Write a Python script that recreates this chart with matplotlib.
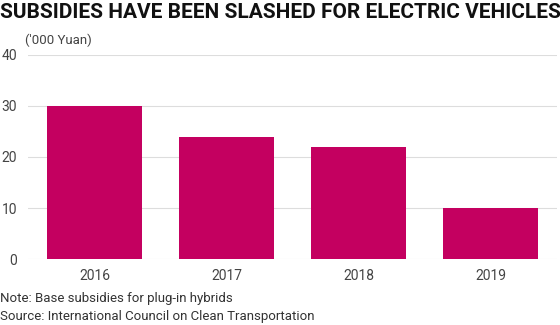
import matplotlib
matplotlib.use('Agg')
import matplotlib.pyplot as plt

# data
years = ['2016', '2017', '2018', '2019']
subsidies = [30, 24, 22, 10]
yticks = [0, 10, 20, 30, 40]

bar_color = '#C40060'
plt.rcParams['font.family'] = ['Roboto', 'DejaVu Sans']

fig = plt.figure(figsize=(5.6, 3.25), dpi=100)
ax = fig.add_axes([0.05, 0.203, 0.9446, 0.628])

ax.bar(range(len(years)), subsidies, width=0.72, color=bar_color, zorder=3)
ax.set_xlim(-0.504, 3.504)
ax.set_ylim(0, 40)
ax.set_yticks(yticks)
ax.set_xticks(range(len(years)))
ax.set_xticklabels(years)
ax.grid(axis='y', color='#dddddd', linewidth=0.8, zorder=0)
for s in ax.spines.values():
    s.set_visible(False)
ax.tick_params(axis='both', length=0, labelsize=10, labelcolor='#444444')
ax.tick_params(axis='y', pad=8)
ax.tick_params(axis='x', pad=7)

fig.text(0.0, 0.963, 'SUBSIDIES HAVE BEEN SLASHED FOR ELECTRIC VEHICLES',
         family=['Liberation Sans Narrow', 'Roboto', 'DejaVu Sans'],
         fontsize=15, fontweight='bold', color='#111111', va='center', ha='left')
fig.text(0.045, 0.875, "('000 Yuan)", fontsize=9.5, color='#444444', va='center')
fig.text(0.0, 0.083, 'Note: Base subsidies for plug-in hybrids', fontsize=9.5,
         color='#333333', va='center')
fig.text(0.0, 0.027, 'Source: International Council on Clean Transportation', fontsize=9.5,
         color='#333333', va='center')

fig.savefig('out.png', dpi=100)
